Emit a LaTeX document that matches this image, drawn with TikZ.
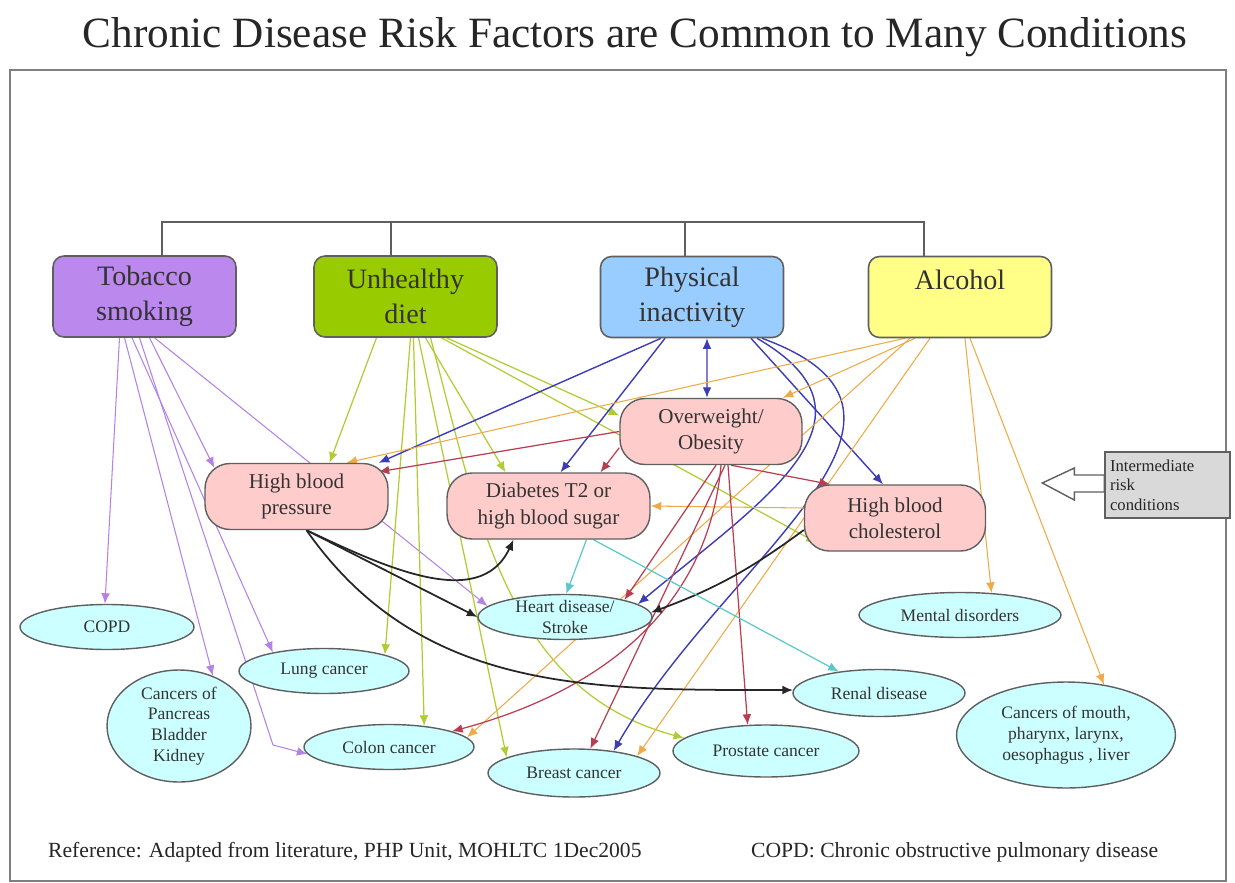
\documentclass[tikz,border=0pt]{standalone}
\usepackage{fontspec}
\setmainfont{Liberation Serif}
\usetikzlibrary{shapes.geometric,arrows.meta,backgrounds}

\definecolor{tobfill}{RGB}{187,136,238}
\definecolor{dietfill}{RGB}{153,204,0}
\definecolor{physfill}{RGB}{153,204,255}
\definecolor{alcfill}{RGB}{255,255,136}
\definecolor{condfill}{RGB}{255,204,204}
\definecolor{disfill}{RGB}{204,255,255}
\definecolor{edgegray}{RGB}{95,95,95}
\definecolor{tobline}{RGB}{180,130,230}
\definecolor{dietline}{RGB}{175,205,50}
\definecolor{physline}{RGB}{60,60,180}
\definecolor{alcline}{RGB}{238,170,70}
\definecolor{owline}{RGB}{185,60,80}
\definecolor{diabline}{RGB}{90,200,200}

\tikzset{
  factor/.style={draw=edgegray, line width=0.9pt, rounded corners=0.22cm,
    minimum width=3.66cm, minimum height=1.62cm, align=center,
    font=\fontsize{16}{20}\selectfont, text=black!80},
  cond/.style={draw=edgegray, line width=0.8pt, fill=condfill, rounded corners=0.5cm,
    minimum height=1.32cm, align=center, font=\fontsize{12}{15}\selectfont, text=black!80},
  disease/.style={ellipse, draw=edgegray, line width=0.8pt, fill=disfill, inner sep=-2pt,
    align=center, font=\fontsize{10}{11.8}\selectfont, text=black!80},
  footnote/.style={anchor=base west, font=\fontsize{12.3}{14}\selectfont, text=black!85},
  bracket/.style={draw=edgegray, line width=0.9pt},
  tobarrow/.style={->, draw=tobline, line width=0.6pt},
  dietarrow/.style={->, draw=dietline, line width=0.7pt},
  physarrow/.style={->, draw=physline, line width=0.8pt},
  alcarrow/.style={->, draw=alcline, line width=0.6pt},
  owarrow/.style={->, draw=owline, line width=0.7pt},
  hbparrow/.style={->, draw=black!85, line width=1pt},
  diabarrow/.style={->, draw=diabline, line width=0.7pt}
}

\begin{document}
\begin{tikzpicture}[x=0.02cm, y=-0.02cm, >={Latex[length=6pt,width=5pt]}]
  \useasboundingbox (0,0) rectangle (1235,883);

  \node[anchor=base, font=\fontsize{24.6}{30}\selectfont, text=black!85] (title) at (635,47)
    {Chronic Disease Risk Factors are Common to Many Conditions};

  \node[factor, fill=tobfill] (tob) at (144.5,296.5) {Tobacco\\smoking};
  \node[factor, fill=dietfill] (diet) at (405.5,296.5) {Unhealthy\\diet};
  \node[factor, fill=physfill] (phys) at (692,297) {Physical\\inactivity};
  \node[factor, fill=alcfill] (alc) at (960,297) {Alcohol\\\mbox{}};

  \node[cond, minimum width=3.64cm] (ow) at (711,431.5) {Overweight/\\Obesity};
  \node[cond, minimum width=3.66cm] (hbp) at (296.5,496.5) {High blood\\pressure};
  \node[cond, minimum width=4.06cm] (diab) at (548.5,506) {Diabetes T2 or\\high blood sugar};
  \node[cond, minimum width=3.62cm] (chol) at (895,518) {High blood\\cholesterol};

  \node[disease, minimum width=3.48cm, minimum height=0.9cm] (copd) at (107,627) {COPD};
  \node[disease, minimum width=2.88cm, minimum height=2.24cm] (panc) at (179,726)
    {Cancers of\\Pancreas\\Bladder\\Kidney};
  \node[disease, minimum width=3.4cm, minimum height=0.9cm] (lung) at (324,671) {Lung cancer};
  \node[disease, minimum width=3.4cm, minimum height=0.9cm] (colon) at (389,747) {Colon cancer};
  \node[disease, minimum width=3.48cm, minimum height=0.9cm] (heart) at (565,617) {Heart disease/\\Stroke};
  \node[disease, minimum width=3.44cm, minimum height=0.96cm] (breast) at (574,773) {Breast cancer};
  \node[disease, minimum width=3.72cm, minimum height=1.04cm] (prost) at (766,751) {Prostate cancer};
  \node[disease, minimum width=3.44cm, minimum height=0.94cm] (renal) at (879,693) {Renal disease};
  \node[disease, minimum width=4.04cm, minimum height=0.9cm] (mental) at (960,615) {Mental disorders};
  \node[disease, minimum width=4.38cm, minimum height=2.12cm] (mouth) at (1066,735)
    {Cancers of mouth,\\pharynx, larynx,\\oesophagus , liver};

  \node[draw=edgegray, line width=0.8pt, fill=black!15, minimum height=1.32cm, text width=2.3cm,
    inner sep=0.1cm, align=left, font=\fontsize{9.5}{11}\selectfont, text=black!85]
    (ilabel) at (1167.5,485) {Intermediate\\risk\\conditions};
  \draw[draw=edgegray, line width=0.8pt, fill=white] ([yshift=0.2cm]ilabel.west) -- ++(-30,0)
    -- ++(0,-7) -- ++(-32,15) -- ++(32,17) -- ++(0,-8) -- ++(30,0) -- cycle;

  \node[footnote] (ref) at (42,857) {Reference: Adapted from literature, PHP Unit, MOHLTC 1Dec2005};
  \node[footnote] (copdnote) at (745,857) {COPD: Chronic obstructive pulmonary disease};

  \begin{scope}[on background layer]
    \draw[draw=edgegray!80, line width=1.2pt] (10,70) rectangle (1226,881);
    \draw[bracket] ([xshift=0.35cm]tob.north) -- ++(0,-33) -| ([xshift=-0.72cm]alc.north);
    \draw[bracket] ([xshift=-0.29cm]diet.north) -- ++(0,-33);
    \draw[bracket] ([xshift=-0.14cm]phys.north) -- ++(0,-33);

    \coordinate (tbend) at (273,745);
    \draw[tobarrow] ([xshift=-0.5cm]tob.south) -- (copd.95);
    \draw[tobarrow] ([xshift=-0.4cm]tob.south) -- (panc.56);
    \draw[tobarrow] ([xshift=-0.25cm]tob.south) -- (lung.160);
    \draw[tobarrow] ([xshift=-0.1cm]tob.south) -- (tbend) -- (colon.185);
    \draw[tobarrow] ([xshift=0.1cm]tob.south) -- ([xshift=0.2cm,yshift=-0.1cm]hbp.north west);
    \draw[tobarrow] ([xshift=0.2cm]tob.south) -- (heart.172);

    \draw[dietarrow] ([xshift=-0.58cm]diet.south) -- ([xshift=0.66cm]hbp.north);
    \draw[dietarrow] ([xshift=0.1cm]diet.south) -- (lung.15);
    \draw[dietarrow] ([xshift=0.16cm]diet.south) -- (colon.31);
    \draw[dietarrow] ([xshift=0.26cm]diet.south) -- (breast.167);
    \draw[dietarrow] ([xshift=0.4cm]diet.south) -- ([xshift=-0.86cm]diab.north);
    \draw[dietarrow] ([xshift=0.5cm]diet.south) to[out=-75, in=165] (prost.171);
    \draw[dietarrow] ([xshift=0.72cm]diet.south) -- ([xshift=0.26cm,yshift=0.18cm]chol.south west);
    \draw[dietarrow] ([xshift=0.82cm]diet.south) -- ([yshift=0.32cm]ow.west);

    \draw[physarrow] ([xshift=-0.62cm]phys.south) -- ([xshift=-0.2cm]hbp.north east);
    \draw[physarrow] ([xshift=-0.54cm]phys.south) -- ([xshift=0.24cm]diab.north);
    \draw[physarrow, <->] ([xshift=0.3cm]phys.south) -- ([xshift=-0.08cm]ow.north);
    \draw[physarrow] ([xshift=1.18cm]phys.south) -- ([xshift=-0.24cm]chol.north);
    \draw[physarrow] ([xshift=1.3cm]phys.south) to[out=-30, in=40, looseness=1.4] (heart.10);
    \draw[physarrow] ([xshift=1.4cm]phys.south) to[out=-20, in=60, looseness=1.3] (breast.29);

    \draw[alcarrow] ([xshift=-1.1cm]alc.south) -- ([xshift=1cm]hbp.north);
    \draw[alcarrow] ([xshift=-0.9cm]alc.south) -- ([xshift=-0.4cm]ow.north east);
    \draw[alcarrow] ([xshift=-1cm]alc.south) -- (colon.7);
    \draw[alcarrow] ([xshift=-0.6cm]alc.south) -- (breast.15);
    \draw[alcarrow] ([xshift=0.1cm]alc.south) -- (mental.35);
    \draw[alcarrow] ([xshift=0.2cm]alc.south) -- (mouth.53);
    \draw[alcarrow] ([yshift=0.2cm]chol.west) -- (diab.east);

    \draw[owarrow] (ow.west) -- ([xshift=-0.2cm,yshift=-0.18cm]hbp.north east);
    \draw[owarrow] (ow.190) -- ([xshift=1.04cm]diab.north);
    \draw[owarrow] ([xshift=0.4cm]ow.south) -- ([xshift=-1.3cm]chol.north);
    \draw[owarrow] ([xshift=0.1cm]ow.south) -- (heart.16);
    \draw[owarrow] ([xshift=0.2cm]ow.south) to[out=-95, in=15] (colon.14);
    \draw[owarrow] ([xshift=0.28cm]ow.south) -- (breast.56);
    \draw[owarrow] ([xshift=0.34cm]ow.south) -- (prost.125);

    \draw[hbparrow] ([xshift=0.2cm]hbp.south) to[out=-25, in=-115] ([xshift=-0.7cm]diab.south);
    \draw[hbparrow] ([xshift=0.2cm]hbp.south) -- (heart.west);
    \draw[hbparrow] ([xshift=0.2cm]hbp.south) to[out=-55, in=180] (renal.178);
    \draw[hbparrow] ([yshift=-0.24cm]chol.west) to[bend left=8] (heart.3);

    \draw[diabarrow] ([xshift=0.76cm]diab.south) -- (heart.87);
    \draw[diabarrow] ([xshift=0.9cm]diab.south) -- (renal.152);
  \end{scope}
\end{tikzpicture}
\end{document}
